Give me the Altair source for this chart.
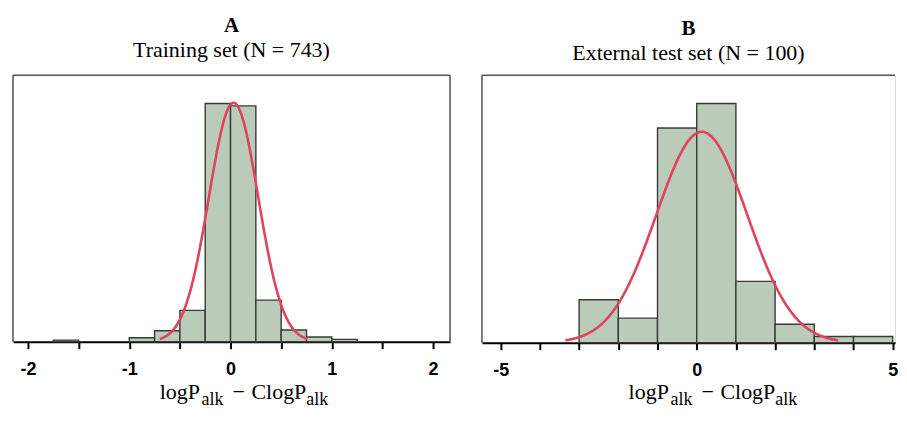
import altair as alt
import pandas as pd

# ---------------- data ----------------
# Panel A: training set histogram (bin width 0.25)
a_bin_start = [-1.75, -1.0, -0.75, -0.5, -0.25, 0.0, 0.25, 0.5, 0.75, 1.0]
a_bin_end = [-1.5, -0.75, -0.5, -0.25, 0.0, 0.25, 0.5, 0.75, 1.0, 1.25]
a_counts = [2, 5, 14, 40, 304, 301, 53, 15, 6, 3]
a_fit_mean = 0.03
a_fit_sd = 0.243
a_n = 743
a_binwidth = 0.25
a_ticks = [-2, -1.75, -1.5, -1.25, -1, -0.75, -0.5, -0.25, 0,
           0.25, 0.5, 0.75, 1, 1.25, 1.5, 1.75, 2]
a_label_step = 1

# Panel B: external test set histogram (bin width 1)
b_bin_start = [-3, -2, -1, 0, 1, 2, 3, 4]
b_bin_end = [-2, -1, 0, 1, 2, 3, 4, 5]
b_counts = [7, 4, 35, 39, 10, 3, 1, 1]
b_fit_mean = 0.13
b_fit_sd = 1.16
b_n = 100
b_binwidth = 1.0
b_ticks = [-5, -4, -3, -2, -1, 0, 1, 2, 3, 4, 5]
b_label_step = 5

titles = ["A", "B"]
subtitles = ["Training set (N = 743)", "External test set (N = 100)"]

# ---------------- styling ----------------
SERIF = "Liberation Serif"
SANS = "Liberation Sans"
BAR_FILL = "#BACBBA"
BAR_STROKE = "#3a3a3a"
CURVE = "#E0445C"
FRAME = "#555555"


def panel(starts, ends, counts, mean, sd, n, bw, ticks, step, xdom, ymax,
          width, height, title, subtitle, right_frame, title_offset):
    hist = pd.DataFrame({"start": starts, "end": ends, "count": counts})
    xscale = alt.Scale(domain=xdom, nice=False, zero=False)
    yscale = alt.Scale(domain=[0, ymax], nice=False)

    x_axis = alt.Axis(
        values=ticks, grid=False, title=None,
        labelExpr=f"(datum.value % {step} == 0) ? '' + datum.value : ''",
        labelFont=SANS, labelFontSize=18, labelFontWeight="bold",
        labelColor="black", labelPadding=12, labelOverlap=False,
        labelFlush=False, tickSize=7, tickWidth=2, tickColor="black",
        domainColor="black", domainWidth=2,
    )

    bars = alt.Chart(hist).mark_rect(
        fill=BAR_FILL, stroke=BAR_STROKE, strokeWidth=1.4
    ).encode(
        x=alt.X("start:Q", scale=xscale, axis=x_axis),
        x2="end:Q",
        y=alt.Y("count:Q", scale=yscale, axis=None),
    )

    amp = n * bw / (sd * (2 * 3.141592653589793) ** 0.5)
    curve = alt.Chart(
        alt.sequence(start=mean - 3 * sd, stop=mean + 3 * sd + sd / 50,
                     step=sd / 50, as_="xv")
    ).transform_calculate(
        yv=f"{amp} * exp(-0.5 * pow((datum.xv - {mean}) / {sd}, 2))"
    ).mark_line(color=CURVE, strokeWidth=2.6, clip=True).encode(
        x=alt.X("xv:Q", scale=xscale),
        y=alt.Y("yv:Q", scale=yscale),
    )

    one = pd.DataFrame({"k": [0]})
    frame_top = alt.Chart(one).mark_rule(color=FRAME, strokeWidth=1.5).encode(
        x=alt.value(0), x2=alt.value(width), y=alt.value(0))
    frame_left = alt.Chart(one).mark_rule(color=FRAME, strokeWidth=1.5).encode(
        x=alt.value(0), y=alt.value(0), y2=alt.value(height))
    layers = [bars, curve, frame_top, frame_left]
    if right_frame:
        layers.append(alt.Chart(one).mark_rule(color=FRAME, strokeWidth=1.5).encode(
            x=alt.value(width), y=alt.value(0), y2=alt.value(height)))

    # x-axis title: logP_alk − ClogP_alk (with subscripts)
    base_y = 324
    pieces = [
        ("logP", 147, base_y, 22),
        ("alk", 189, base_y + 6, 18),
        ("−", 220, base_y, 22),
        ("ClogP", 239, base_y, 22),
        ("alk", 294, base_y + 6, 18),
    ]
    for txt, px, py, fs in pieces:
        layers.append(
            alt.Chart(one).mark_text(
                text=txt, font=SERIF, fontSize=fs, color="black",
                align="left", baseline="alphabetic",
            ).encode(x=alt.value(px), y=alt.value(py))
        )

    return alt.layer(*layers).properties(
        width=width, height=height,
        title=alt.TitleParams(
            text=title, subtitle=subtitle, anchor="middle",
            font=SERIF, fontSize=21, fontWeight="bold", color="black",
            subtitleFont=SERIF, subtitleFontSize=22, subtitleColor="black",
            subtitlePadding=4, offset=title_offset,
        ),
    )


pa = panel(a_bin_start, a_bin_end, a_counts, a_fit_mean, a_fit_sd, a_n,
           a_binwidth, a_ticks, a_label_step, [-2.148, 2.167], 340, 438, 267,
           titles[0], subtitles[0], True, 14)
pb = panel(b_bin_start, b_bin_end, b_counts, b_fit_mean, b_fit_sd, b_n,
           b_binwidth, b_ticks, b_label_step, [-5.48, 5.06], 43.6, 414, 268,
           titles[1], subtitles[1], False, 11)

chart = alt.hconcat(pa, pb, spacing=32, bounds="flush").properties(
    padding={"left": 3, "top": 5, "right": 0, "bottom": 0}
).configure_view(stroke="transparent", strokeWidth=0).configure(background="white")

chart.save("out.html", embed_options={"renderer": "svg", "actions": False})
